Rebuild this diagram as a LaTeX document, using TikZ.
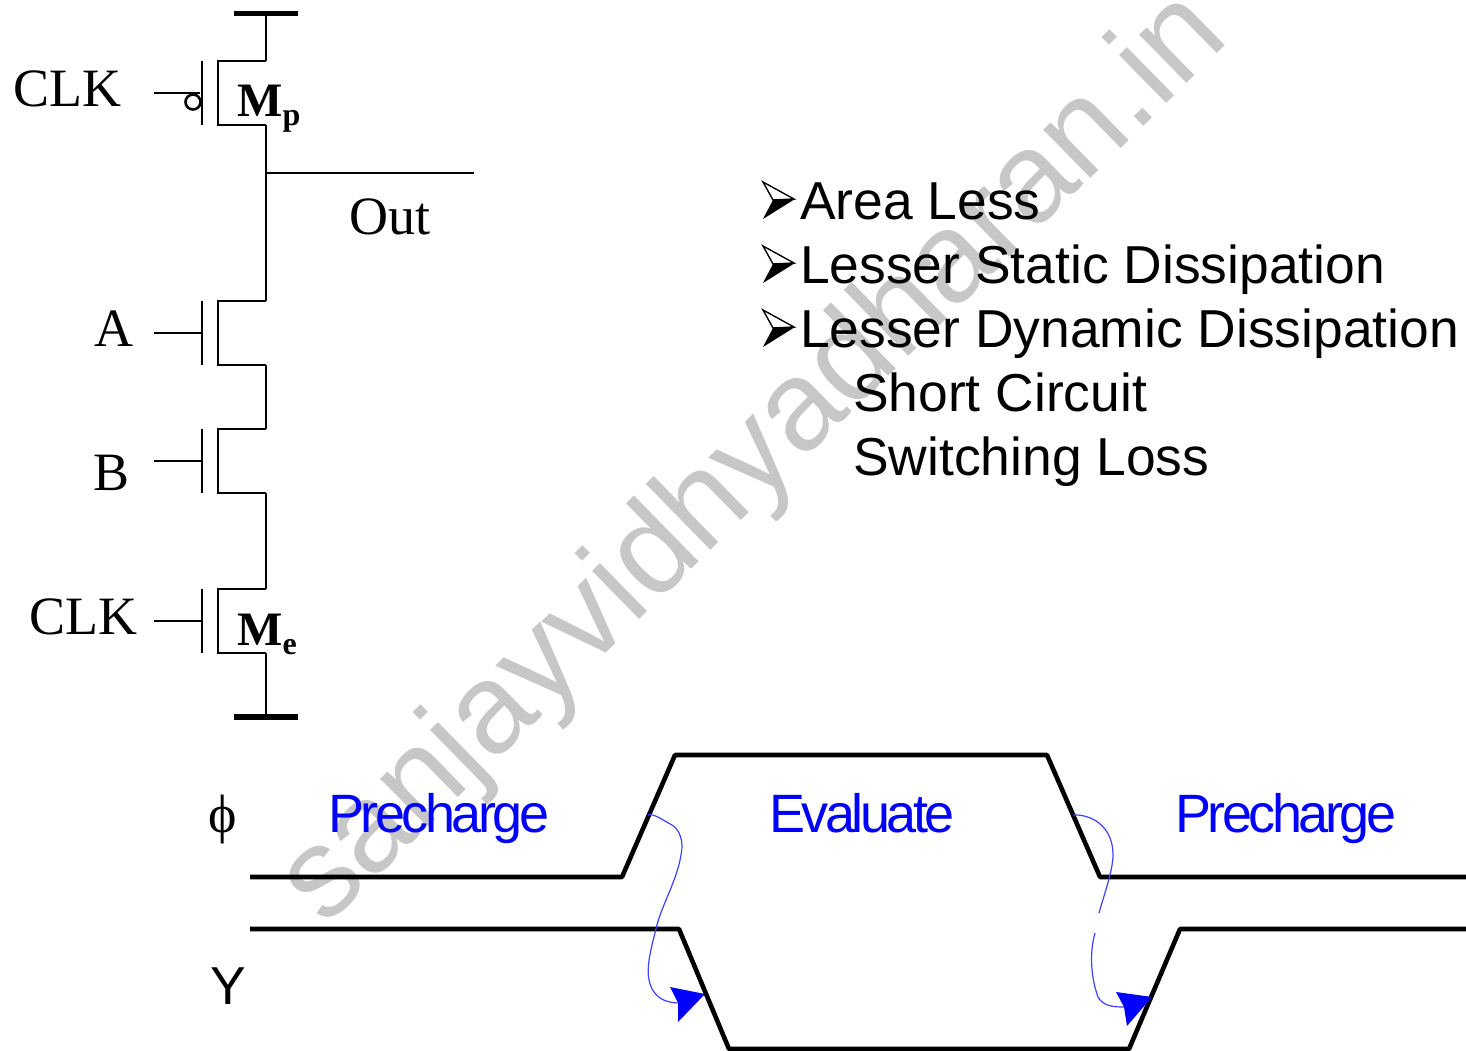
\documentclass[tikz,border=0pt]{standalone}
\usepackage{fontspec}
\setmainfont{Liberation Serif}
\newfontfamily\armfont{Liberation Sans}
\newfontfamily\tightfont[LetterSpace=-6.5]{Liberation Sans}
\tikzset{
	wire/.style={line width=2.6pt},
	rail/.style={line width=5.4pt},
	wave/.style={line width=4.6pt, line join=round},
	flow/.style={draw=blue!75!white, line width=1.2pt},
	head/.style={fill=blue, draw=none},
	lbl/.style={anchor=base west, inner sep=0pt, font=\fontsize{54}{54}\selectfont},
	bold/.style={anchor=base west, inner sep=0pt, font=\fontsize{48}{48}\selectfont\bfseries},
	item/.style={anchor=base west, inner sep=0pt, font=\armfont\fontsize{53.4}{54}\selectfont},
	phase/.style={anchor=base west, inner sep=0pt, text=blue, font=\tightfont\fontsize{54}{54}\selectfont}
}
\def\nmos(#1,#2){\draw[wire] (266, #1) -- (218, #1) -- (218, #2) -- (266, #2);
	\draw[wire] (202, #1) -- (202, #2);}
\def\tickmark(#1){\draw[line width=1.4pt, fill=white, line join=miter] (763, #1) -- (794, #1+17) -- (773, #1+18) -- cycle;
	\fill (763, #1+37) -- (795, #1+17) -- (773, #1+18) -- cycle;}

\begin{document}
\begin{tikzpicture}[x=1pt, y=-1pt]
	%%%%% START %%%%%
	\useasboundingbox (0, 0) rectangle (1466, 1051);

	\node[anchor=base west, inner sep=0pt, rotate=44.4, text=black!22, font=\armfont\fontsize{127.5}{128}\selectfont] (mark) at (325, 928) {sanjayvidhyadharan.in};

	% pull-up and stack
	\draw[rail] (234, 13.5) -- (298, 13.5);
	\draw[wire] (266, 13) -- (266, 61);
	\nmos(61,125)
	\draw[wire] (266, 125) -- (266, 301);
	\draw[wire] (266, 173) -- (474, 173);
	\draw[wire] (154, 93) -- (200, 93);
	\draw[wire] (193, 102) circle (7.5);
	\nmos(301,365)
	\draw[wire] (266, 365) -- (266, 429);
	\draw[wire] (154, 333) -- (202, 333);
	\nmos(429,493)
	\draw[wire] (266, 493) -- (266, 589);
	\draw[wire] (154, 461) -- (202, 461);
	\nmos(589,653)
	\draw[wire] (154, 621) -- (202, 621);
	\draw[wire] (266, 653) -- (266, 717);
	\draw[rail] (234, 717) -- (298, 717);

	\node[lbl] (clkp) at (13, 107) {CLK};
	\node[lbl] (out) at (349, 234) {Out};
	\node[lbl] (a) at (94, 346) {A};
	\node[lbl] (b) at (93, 490) {B};
	\node[lbl] (clke) at (29, 634) {CLK};
	\node[bold] (mp) at (237, 117) {M\raisebox{-9pt}{\fontsize{32}{32}\selectfont p}};
	\node[bold] (me) at (237, 645) {M\raisebox{-9pt}{\fontsize{32}{32}\selectfont e}};

	% list
	\tickmark(182)
	\tickmark(246)
	\tickmark(310)
	\node[item] (l1) at (800, 219) {Area Less};
	\node[item] (l2) at (800, 283) {Lesser Static Dissipation};
	\node[item] (l3) at (800, 347) {Lesser Dynamic Dissipation};
	\node[item] (l4) at (853, 411) {Short Circuit};
	\node[item] (l5) at (853, 475) {Switching Loss};

	% waves
	\draw[wave] (250, 877) -- (622, 877) -- (675, 755) -- (1047, 755) -- (1100, 877) -- (1466, 877);
	\draw[wave] (250, 929) -- (679, 929) -- (729, 1049) -- (1129, 1049) -- (1180, 929) -- (1466, 929);

	\node[lbl] (phi) at (208, 832) {ϕ};
	\node[item] (y) at (210, 1004) {Y};
	\node[phase] (pre1) at (328, 832) {Precharge};
	\node[phase] (eval) at (769, 832) {Evaluate};
	\node[phase] (pre2) at (1175, 832) {Precharge};

	\draw[flow] (648, 815) .. controls (654, 813) and (664, 821) .. (672, 825) .. controls (680, 830) and (684, 842) .. (681, 855) .. controls (677, 880) and (662, 905) .. (657, 925) .. controls (652, 945) and (646, 965) .. (649, 980) .. controls (653, 998) and (665, 1003) .. (680, 1003);
	\fill[head] (705, 994) -- (670, 987) -- (678, 1003) -- (678, 1022) -- cycle;

	\draw[flow] (1073, 815) .. controls (1090, 814) and (1113, 825) .. (1113, 855) .. controls (1113, 870) and (1104, 895) .. (1099, 913);
	\draw[flow] (1095, 933) .. controls (1090, 950) and (1090, 975) .. (1098, 997) .. controls (1103, 1006) and (1113, 1007) .. (1124, 1007);
	\fill[head] (1152, 997) -- (1116, 992) -- (1124, 1007) -- (1127, 1026) -- cycle;
	%%%%% END %%%%%
\end{tikzpicture}
\end{document}
